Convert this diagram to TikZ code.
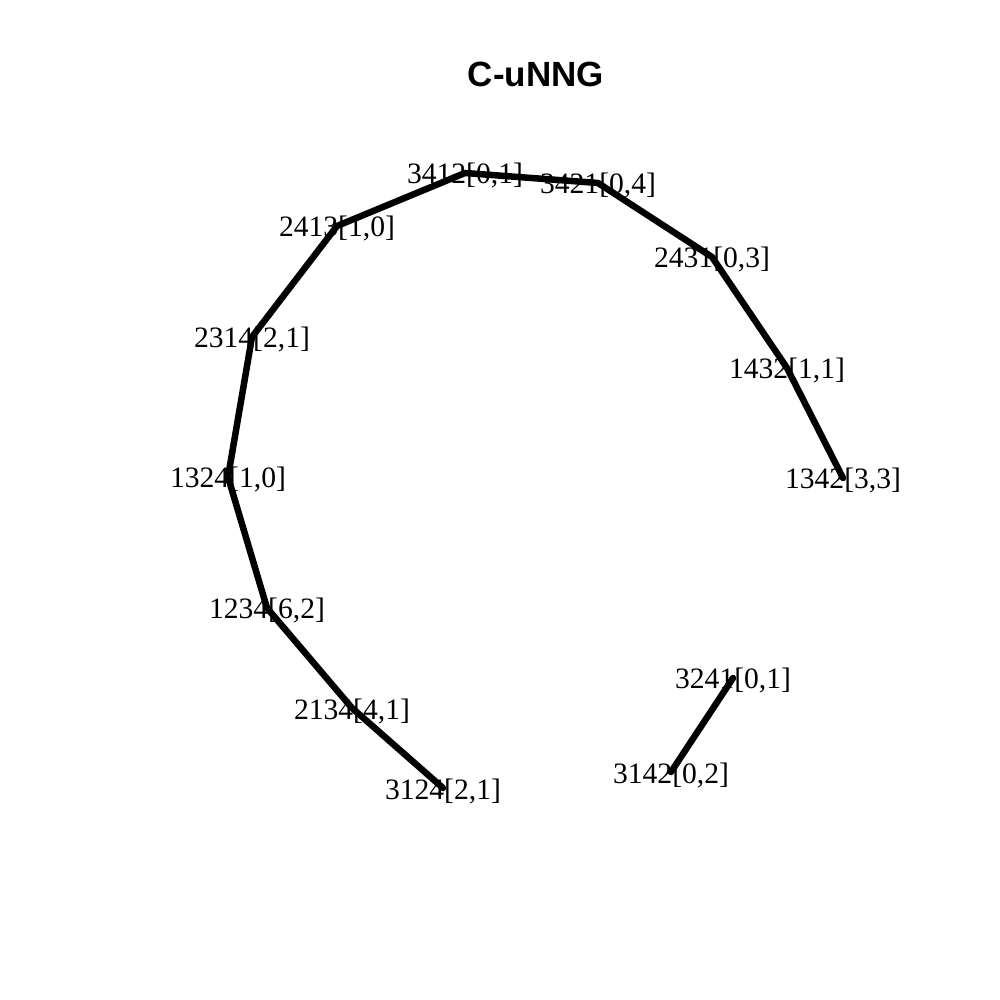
\documentclass[tikz,border=0pt]{standalone}
\usepackage{fontspec}
\setmainfont{Liberation Serif}
\newfontfamily\titlefont{Liberation Sans}
\begin{document}
\begin{tikzpicture}[x=1pt,y=-1pt,
  vlabel/.style={inner sep=0pt,anchor=center,yshift=-3pt,font=\fontsize{29.6}{30}\selectfont},
  edge/.style={line width=6.5pt,line cap=round,line join=round}]
\useasboundingbox (0,0) rectangle (1000,1000);
\node[font=\titlefont\bfseries\fontsize{35}{36}\selectfont,inner sep=0pt] (title) at (536,74) {C-uNNG};
\coordinate (v3412) at (465,173);
\coordinate (v3421) at (598,183);
\coordinate (v2413) at (337,226);
\coordinate (v2431) at (712,257);
\coordinate (v2314) at (252,337);
\coordinate (v1432) at (787,368);
\coordinate (v1342) at (843,478);
\coordinate (v1324) at (228,477);
\coordinate (v1234) at (267,608);
\coordinate (v2134) at (352,708);
\coordinate (v3124) at (443,788);
\coordinate (v3241) at (733,678);
\coordinate (v3142) at (671,772);
\draw[edge] (v3124) -- (v2134) -- (v1234) -- (v1324) -- (v2314) -- (v2413) -- (v3412) -- (v3421) -- (v2431) -- (v1432) -- (v1342);
\draw[edge] (v3241) -- (v3142);
\node[vlabel] (l3412) at (v3412) {3412[0,1]};
\node[vlabel] (l3421) at (v3421) {3421[0,4]};
\node[vlabel] (l2413) at (v2413) {2413[1,0]};
\node[vlabel] (l2431) at (v2431) {2431[0,3]};
\node[vlabel] (l2314) at (v2314) {2314[2,1]};
\node[vlabel] (l1432) at (v1432) {1432[1,1]};
\node[vlabel] (l1342) at (v1342) {1342[3,3]};
\node[vlabel] (l1324) at (v1324) {1324[1,0]};
\node[vlabel] (l1234) at (v1234) {1234[6,2]};
\node[vlabel] (l2134) at (v2134) {2134[4,1]};
\node[vlabel] (l3124) at (v3124) {3124[2,1]};
\node[vlabel] (l3241) at (v3241) {3241[0,1]};
\node[vlabel] (l3142) at (v3142) {3142[0,2]};
\end{tikzpicture}
\end{document}
